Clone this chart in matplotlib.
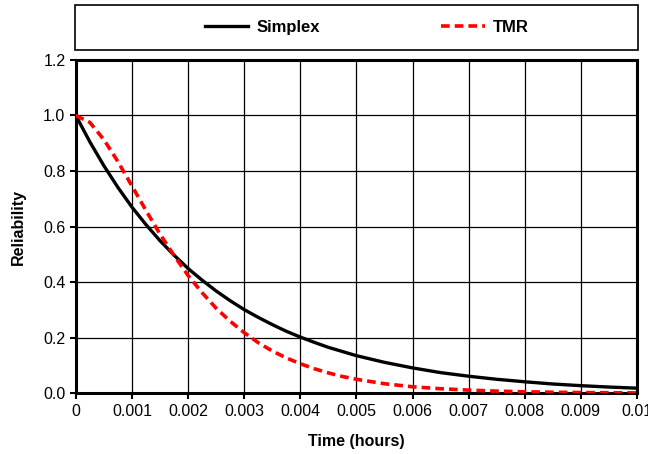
import matplotlib
matplotlib.use("Agg")
import matplotlib.pyplot as plt
from matplotlib.patches import Rectangle

# time in hours
t = [0, 0.00025, 0.0005, 0.00075, 0.001, 0.00125, 0.0015, 0.00175, 0.002, 0.00225,
     0.0025, 0.00275, 0.003, 0.00325, 0.0035, 0.00375, 0.004, 0.00425, 0.0045, 0.00475,
     0.005, 0.0055, 0.006, 0.0065, 0.007, 0.0075, 0.008, 0.0085, 0.009, 0.0095, 0.01]
simplex = [1.0, 0.905, 0.819, 0.741, 0.670, 0.607, 0.549, 0.497, 0.449, 0.407,
           0.368, 0.333, 0.301, 0.273, 0.247, 0.223, 0.202, 0.183, 0.165, 0.150,
           0.135, 0.111, 0.091, 0.074, 0.061, 0.050, 0.041, 0.033, 0.027, 0.022, 0.018]
tmr = [1.0, 0.975, 0.913, 0.834, 0.746, 0.658, 0.573, 0.496, 0.424, 0.362,
       0.306, 0.259, 0.218, 0.182, 0.152, 0.127, 0.106, 0.088, 0.073, 0.060,
       0.050, 0.034, 0.023, 0.016, 0.011, 0.0074, 0.0049, 0.0033, 0.0022, 0.0015, 0.001]

xticks = [0, 0.001, 0.002, 0.003, 0.004, 0.005, 0.006, 0.007, 0.008, 0.009, 0.01]
xticklabels = ['0', '0.001', '0.002', '0.003', '0.004', '0.005', '0.006', '0.007', '0.008', '0.009', '0.01']
yticks = [0.0, 0.2, 0.4, 0.6, 0.8, 1.0, 1.2]

plt.rcParams['font.family'] = ['Liberation Sans', 'DejaVu Sans']

fig = plt.figure(figsize=(6.48, 4.54), dpi=100)
ax = fig.add_axes([0.117, 0.134, 0.866, 0.734])

ax.plot(t, simplex, color='black', lw=2.4, label='Simplex', zorder=3)
ax.plot(t, tmr, color='#ff0000', lw=2.6, ls=(0, (2.4, 1.4)), label='TMR', zorder=4)

ax.set_xlim(0, 0.01)
ax.set_ylim(0, 1.2)
ax.set_xticks(xticks)
ax.set_xticklabels(xticklabels)
ax.set_yticks(yticks)
ax.set_yticklabels(['%.1f' % v for v in yticks])
ax.grid(True, color='black', lw=0.9)
ax.tick_params(labelsize=11.5, length=4, width=1.5, color='black')
for s in ax.spines.values():
    s.set_linewidth(2.2)
    s.set_color('black')

ax.set_xlabel('Time (hours)', fontsize=11.5, fontweight='bold', labelpad=11)
ax.set_ylabel('Reliability', fontsize=11.5, fontweight='bold', labelpad=12)

# legend box across the top
fig.patches.append(Rectangle((0.116, 0.890), 0.869, 0.099, transform=fig.transFigure,
                             fill=False, edgecolor='black', lw=1.2))
handles, labels = ax.get_legend_handles_labels()
leg = fig.legend(handles, labels, loc='center', bbox_to_anchor=(0.566, 0.939), ncol=2,
                 frameon=False, prop={'weight': 'bold', 'size': 12},
                 handlelength=2.6, columnspacing=7.3, handletextpad=0.5)

fig.savefig('out.png', dpi=100)
